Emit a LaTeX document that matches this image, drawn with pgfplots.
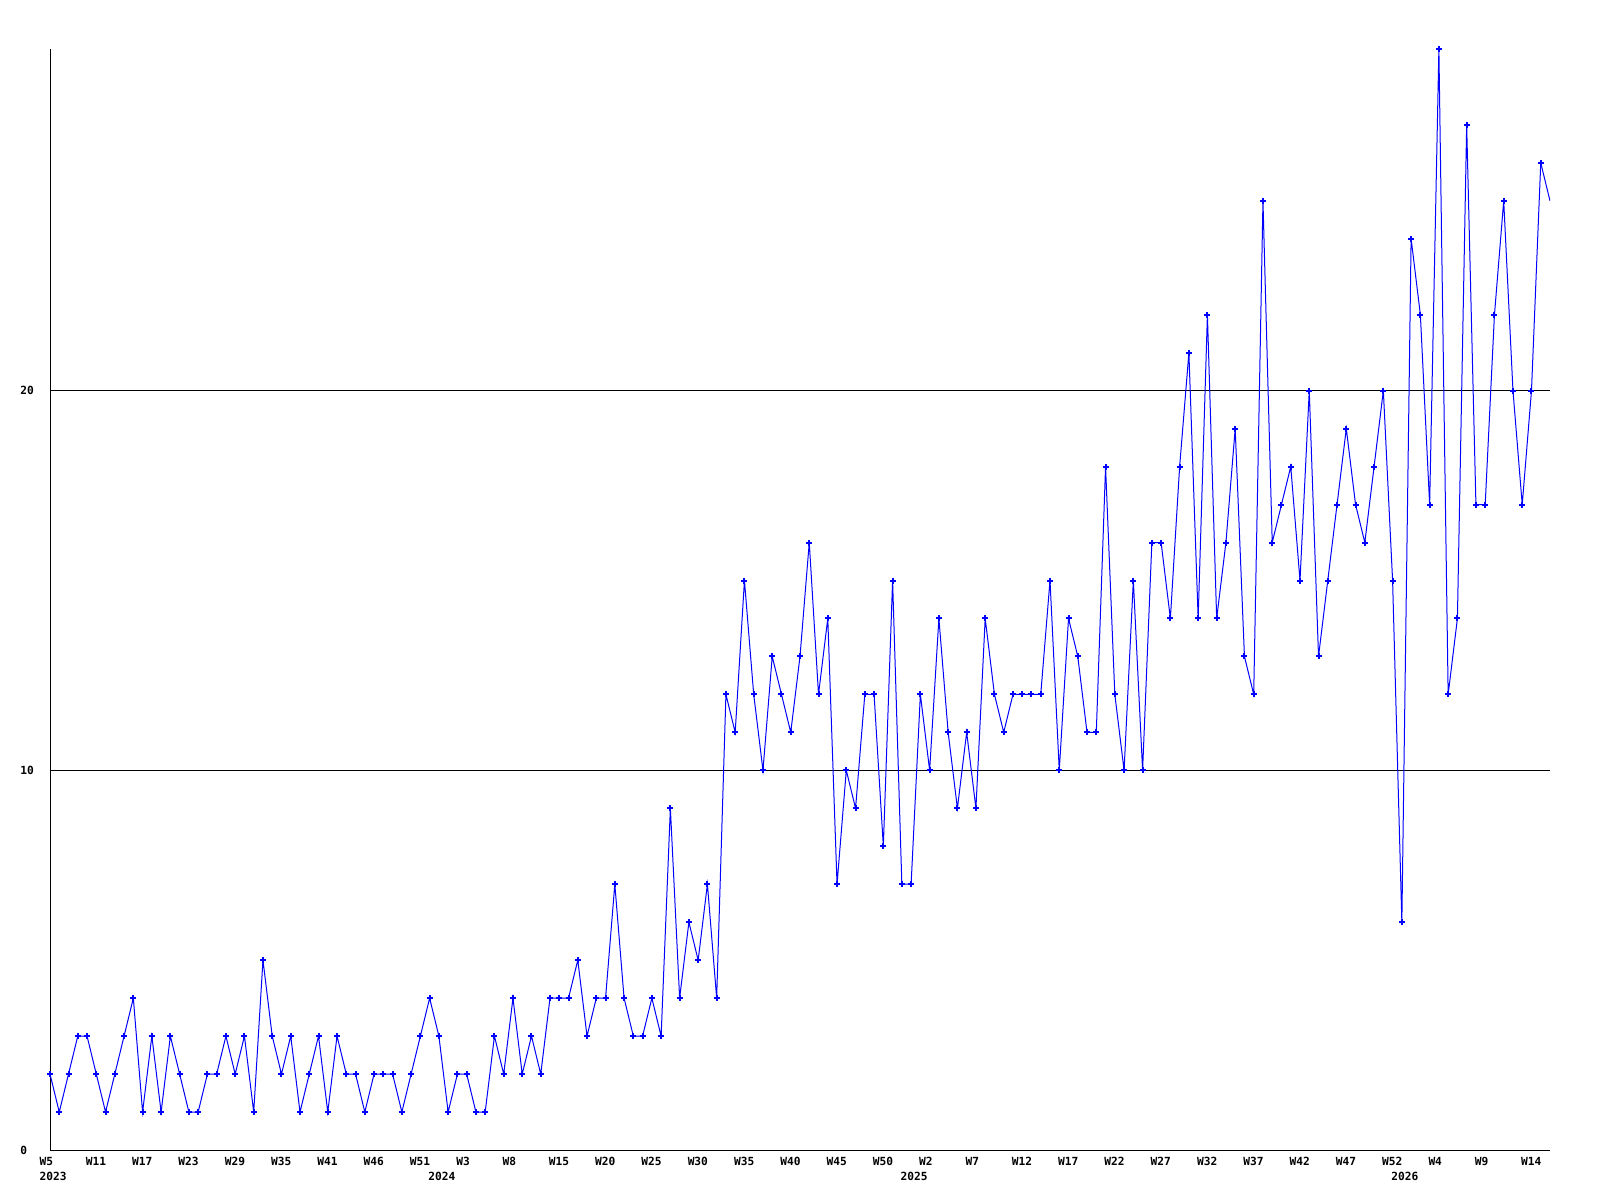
\documentclass[border=0pt]{standalone}
\usepackage{fontspec}
\setmonofont{DejaVu Sans Mono}
\usepackage{pgfplots}
\pgfplotsset{compat=1.18}
\begin{document}
\begin{tikzpicture}
\useasboundingbox (-25bp,-25bp) rectangle (775bp,575bp);
\begin{axis}[
  at={(0,0)}, anchor=south west,
  scale only axis, width=750bp, height=550.5bp,
  xmin=0, xmax=162, ymin=0, ymax=29,
  axis lines*=left,
  axis line style={black, line width=0.5bp},
  major tick length=0pt,
  ytick={0,10,20}, yticklabels={0,10,20},
  ymajorgrids, grid style={black, line width=0.5bp},
  xtick={0,5,...,160},
  xticklabels={W5,W11,W17,W23,W29,W35,W41,W46,W51,W3,W8,W15,W20,W25,W30,W35,W40,W45,W50,W2,W7,W12,W17,W22,W27,W32,W37,W42,W47,W52,W4,W9,W14},
  extra x ticks={0,42,93,146},
  extra x tick labels={2023,2024,2025,2026},
  extra x tick style={grid=none, xticklabel style={yshift=-7.5bp}},
  ticklabel style={font=\fontsize{5.6bp}{6bp}\selectfont\ttfamily\bfseries, inner sep=0pt},
  xticklabel style={anchor=north west, xshift=-5.4bp, yshift=-3.5bp},
  yticklabel style={anchor=west, xshift=-15bp},
  clip=true,
]
\addplot[color={rgb,255:red,0;green,0;blue,255}, line width=0.5bp, mark=+, mark size=1.5bp, mark options={line width=1bp}] coordinates {
(0,2)(1,1)(2,2)(3,3)(4,3)(5,2)(6,1)(7,2)(8,3)(9,4)
(10,1)(11,3)(12,1)(13,3)(14,2)(15,1)(16,1)(17,2)(18,2)(19,3)
(20,2)(21,3)(22,1)(23,5)(24,3)(25,2)(26,3)(27,1)(28,2)(29,3)
(30,1)(31,3)(32,2)(33,2)(34,1)(35,2)(36,2)(37,2)(38,1)(39,2)
(40,3)(41,4)(42,3)(43,1)(44,2)(45,2)(46,1)(47,1)(48,3)(49,2)
(50,4)(51,2)(52,3)(53,2)(54,4)(55,4)(56,4)(57,5)(58,3)(59,4)
(60,4)(61,7)(62,4)(63,3)(64,3)(65,4)(66,3)(67,9)(68,4)(69,6)
(70,5)(71,7)(72,4)(73,12)(74,11)(75,15)(76,12)(77,10)(78,13)(79,12)
(80,11)(81,13)(82,16)(83,12)(84,14)(85,7)(86,10)(87,9)(88,12)(89,12)
(90,8)(91,15)(92,7)(93,7)(94,12)(95,10)(96,14)(97,11)(98,9)(99,11)
(100,9)(101,14)(102,12)(103,11)(104,12)(105,12)(106,12)(107,12)(108,15)(109,10)
(110,14)(111,13)(112,11)(113,11)(114,18)(115,12)(116,10)(117,15)(118,10)(119,16)
(120,16)(121,14)(122,18)(123,21)(124,14)(125,22)(126,14)(127,16)(128,19)(129,13)
(130,12)(131,25)(132,16)(133,17)(134,18)(135,15)(136,20)(137,13)(138,15)(139,17)
(140,19)(141,17)(142,16)(143,18)(144,20)(145,15)(146,6)(147,24)(148,22)(149,17)
(150,29)(151,12)(152,14)(153,27)(154,17)(155,17)(156,22)(157,25)(158,20)(159,17)
(160,20)(161,26)
};
\addplot[color={rgb,255:red,0;green,0;blue,255}, line width=0.5bp, mark=none] coordinates {
(161,26)(162,25)
};
\end{axis}
\end{tikzpicture}
\end{document}
